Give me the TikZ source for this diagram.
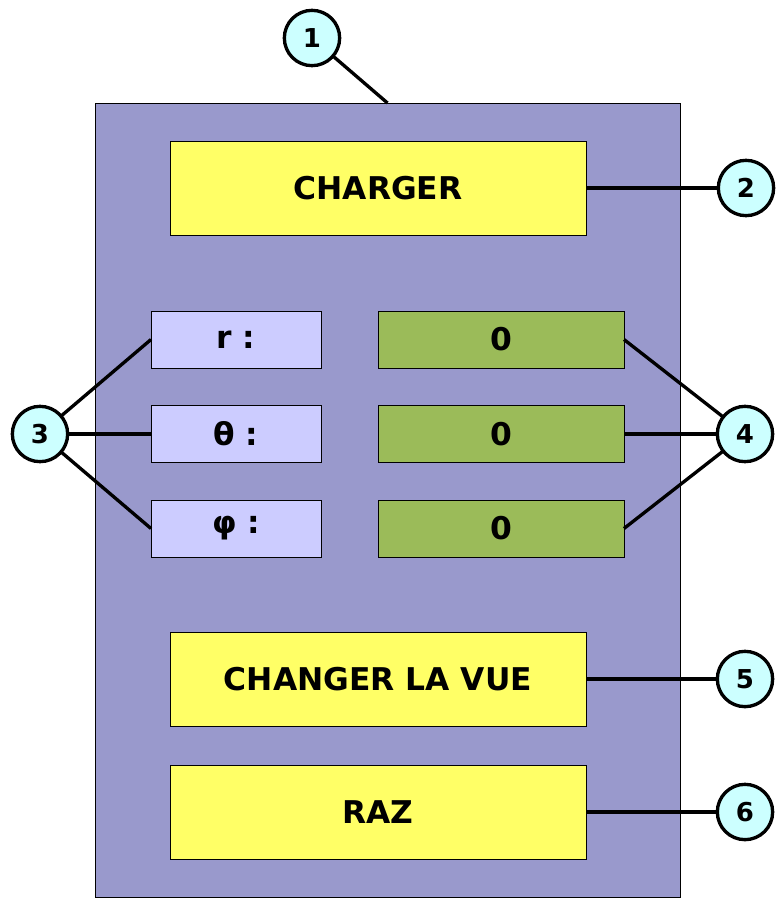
\documentclass[tikz,border=0pt]{standalone}
\usepackage{fontspec}
\setmainfont{DejaVu Sans}
\definecolor{panelbg}{HTML}{9999CC}
\definecolor{btnyellow}{HTML}{FFFF66}
\definecolor{lblblue}{HTML}{CCCCFF}
\definecolor{valgreen}{HTML}{9BBB59}
\definecolor{calloutbg}{HTML}{CCFFFF}
\begin{document}
\begin{tikzpicture}[x=0.75pt,y=-0.75pt,inner sep=0pt,outer sep=0pt,line width=2.5pt,
panel/.style={draw,rectangle,fill=panelbg,line width=0.75pt,minimum width=438.75pt,minimum height=595.5pt},
button/.style={draw,rectangle,fill=btnyellow,line width=0.75pt,minimum width=312pt,minimum height=70.5pt,font=\fontsize{23.5}{28}\selectfont\bfseries},
lblbox/.style={draw,rectangle,fill=lblblue,line width=0.75pt,minimum width=127.5pt,minimum height=42.75pt,font=\fontsize{23.5}{28}\selectfont\bfseries},
valbox/.style={draw,rectangle,fill=valgreen,line width=0.75pt,minimum width=184.5pt,minimum height=42.75pt,font=\fontsize{23.5}{28}\selectfont\bfseries},
callout/.style={draw,circle,fill=calloutbg,line width=2.5pt,minimum size=41.5pt,font=\fontsize{19.5}{23}\selectfont\bfseries}]
\useasboundingbox (0,0) rectangle (784,908);

\draw (387.5,500) node[panel] (frame) {};
\draw (378,188) node[button] (load) {CHARGER};
\draw (378,679) node[button] (view) {CHANGER LA VUE};
\draw (378,812) node[button] (reset) {RAZ};

\draw (236,339.5) node[lblbox] (lr) {r :};
\draw (236,434) node[lblbox] (ltheta) {θ :};
\draw (236,528.5) node[lblbox] (lphi) {φ :};
\draw (501,339.5) node[valbox] (vr) {0};
\draw (501,434) node[valbox] (vtheta) {0};
\draw (501,528.5) node[valbox] (vphi) {0};

\draw (312,38) node[callout] (c1) {1};
\draw (746,188) node[callout] (c2) {2};
\draw (40,434) node[callout] (c3) {3};
\draw (745,434) node[callout] (c4) {4};
\draw (745,679) node[callout] (c5) {5};
\draw (745,812) node[callout] (c6) {6};

\draw (c1) -- (frame.north);
\draw (load.east) -- (c2);
\draw (c3) -- (lr.west);
\draw (c3) -- (ltheta.west);
\draw (c3) -- (lphi.west);
\draw (vr.east) -- (c4);
\draw (vtheta.east) -- (c4);
\draw (vphi.east) -- (c4);
\draw (view.east) -- (c5);
\draw (reset.east) -- (c6);
\end{tikzpicture}
\end{document}
